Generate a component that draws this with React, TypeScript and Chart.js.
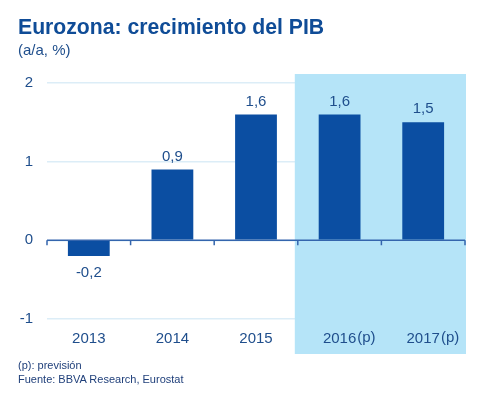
import React, { useEffect, useRef } from "react";
import { Chart, registerables } from "chart.js";

Chart.register(...registerables);

const categories = ["2013", "2014", "2015", "2016", "2017"];
const forecastMarks = ["", "", "", "(p)", "(p)"];
const growth = [-0.2, 0.9, 1.6, 1.6, 1.5];
const valueLabels = ["-0,2", "0,9", "1,6", "1,6", "1,5"];
const yTickValues = [-1, 0, 1, 2];
const forecastStartIndex = 3;

const FONT = "'Liberation Sans', Arial, Helvetica, sans-serif";
const TEXT_BLUE = "#1f4e8c";
const BAR_BLUE = "#0b4ea2";
const HIGHLIGHT = "#b5e4f8";

const overlayPlugin = {
  id: "overlay",
  beforeDatasetsDraw(chart: any) {
    const { ctx, chartArea, scales } = chart;
    const y = scales.y;
    const n = categories.length;
    const step = (chartArea.right - chartArea.left) / n;
    const hLeft = chartArea.left + step * forecastStartIndex - 3;
    ctx.save();
    ctx.fillStyle = HIGHLIGHT;
    ctx.fillRect(hLeft, chartArea.top - 9, chartArea.right + 1 - hLeft, chartArea.bottom + 35 - (chartArea.top - 9));
    const y0 = y.getPixelForValue(0);
    ctx.strokeStyle = "#3465ad";
    ctx.lineWidth = 1.5;
    ctx.beginPath();
    ctx.moveTo(chartArea.left, y0);
    ctx.lineTo(chartArea.right, y0);
    for (let i = 0; i <= n; i++) {
      const bx = chartArea.left + step * i;
      ctx.moveTo(bx, y0);
      ctx.lineTo(bx, y0 + 5);
    }
    ctx.stroke();
    ctx.restore();
  },
  afterDatasetsDraw(chart: any) {
    const { ctx } = chart;
    const meta = chart.getDatasetMeta(0);
    ctx.save();
    ctx.fillStyle = TEXT_BLUE;
    ctx.font = `15px ${FONT}`;
    ctx.textAlign = "center";
    ctx.textBaseline = "middle";
    meta.data.forEach((bar: any, i: number) => {
      const v = growth[i];
      const ly = v >= 0 ? bar.y - 13 : bar.y + 17;
      ctx.fillText(valueLabels[i], bar.x, ly);
    });
    ctx.restore();
  },
  afterDraw(chart: any) {
    const { ctx, scales } = chart;
    const xs = scales.x;
    ctx.save();
    ctx.fillStyle = TEXT_BLUE;
    ctx.font = `15px ${FONT}`;
    ctx.textAlign = "left";
    ctx.textBaseline = "middle";
    categories.forEach((c, i) => {
      if (!forecastMarks[i]) return;
      const cx = xs.getPixelForTick(i);
      const w = ctx.measureText(c).width;
      ctx.fillText(forecastMarks[i], cx + w / 2 + 1, xs.top + 19);
    });
    ctx.restore();
  },
};

export default function App() {
  const canvasRef = useRef<HTMLCanvasElement | null>(null);

  useEffect(() => {
    const canvas = canvasRef.current;
    if (!canvas) return;
    const chart = new Chart(canvas, {
      type: "bar",
      data: {
        labels: categories,
        datasets: [
          {
            data: growth,
            backgroundColor: BAR_BLUE,
            borderWidth: 0,
            categoryPercentage: 1,
            barPercentage: 0.5,
          },
        ],
      },
      options: {
        responsive: false,
        animation: false,
        events: [],
        layout: { padding: { left: 0, top: 83, right: 24, bottom: 40 } },
        plugins: {
          legend: { display: false },
          title: { display: false },
          tooltip: { enabled: false },
        },
        scales: {
          x: {
            z: 1,
            grid: { display: false, drawTicks: false },
            border: { display: false },
            ticks: {
              z: 1,
              color: TEXT_BLUE,
              font: { family: FONT, size: 15 },
              padding: 11,
              maxRotation: 0,
              autoSkip: false,
            },
            afterFit(s: any) {
              s.height = 35;
            },
          },
          y: {
            min: -1,
            max: 2,
            afterBuildTicks(s: any) {
              s.ticks = yTickValues.map((v) => ({ value: v }));
            },
            grid: { color: "#dcedf7", lineWidth: 1.5, drawTicks: false },
            border: { display: false },
            ticks: {
              color: TEXT_BLUE,
              font: { family: FONT, size: 15 },
              padding: 14,
              callback: (v: any) => String(v),
            },
            afterFit(s: any) {
              s.width = 47;
            },
          },
        },
      },
      plugins: [overlayPlugin],
    });
    return () => chart.destroy();
  }, []);

  const base: React.CSSProperties = {
    position: "absolute",
    left: 18,
    fontFamily: FONT,
    whiteSpace: "nowrap",
    margin: 0,
  };

  return (
    <div style={{ position: "relative", width: 489, height: 394, margin: -8, background: "#fff", overflow: "hidden" }}>
      <canvas ref={canvasRef} width={489} height={394} style={{ position: "absolute", left: 0, top: 0, width: 489, height: 394 }} />
      <div style={{ ...base, top: 15, fontSize: 21.2, lineHeight: "24px", fontWeight: "bold", color: "#0f4c97" }}>
        Eurozona: crecimiento del PIB
      </div>
      <div style={{ ...base, top: 42, fontSize: 15, lineHeight: "16px", color: "#1f4e8c" }}>(a/a, %)</div>
      <div style={{ ...base, top: 359, fontSize: 11, lineHeight: "13px", color: "#1f3f7a" }}>(p): previsión</div>
      <div style={{ ...base, top: 373, fontSize: 11, lineHeight: "13px", color: "#1f3f7a" }}>
        Fuente: BBVA Research, Eurostat
      </div>
    </div>
  );
}
